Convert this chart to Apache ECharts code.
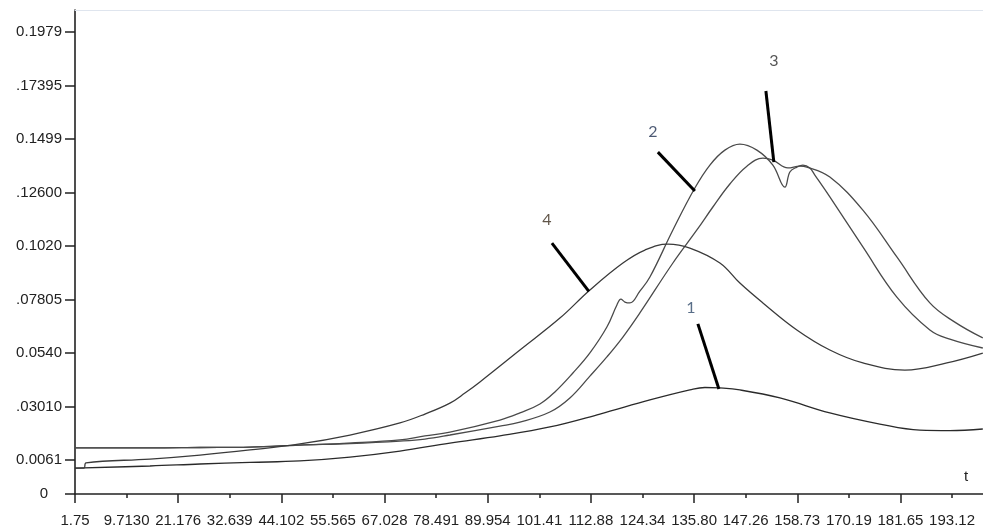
<!DOCTYPE html>
<html>
<head>
<meta charset="utf-8">
<script src="https://cdn.jsdelivr.net/npm/echarts@6/dist/echarts.min.js"></script>
<style>
html,body{margin:0;padding:0;background:#fff;}
#chart{width:983px;height:532px;}
</style>
</head>
<body>
<div id="chart"></div>
<script>
// ---- data (t, value) ----
const curve1T = [-1.75, 14.91, 26.02, 37.13, 48.23, 59.34, 70.45, 81.56, 92.66, 103.77, 114.88, 125.99, 134.87, 138.20, 141.54, 145.98, 154.87, 165.97, 177.08, 185.97, 192.63, 199.96];
const curve1V = [0.0025, 0.0034, 0.0043, 0.0050, 0.0057, 0.0074, 0.0101, 0.0137, 0.0169, 0.0209, 0.0267, 0.0330, 0.0375, 0.0386, 0.0384, 0.0375, 0.0339, 0.0272, 0.0222, 0.0195, 0.0193, 0.0200];

const curve2T = [-1.75, 14.91, 26.02, 37.13, 48.23, 59.34, 70.45, 76.00, 81.56, 92.66, 97.11, 101.55, 104.88, 108.88, 112.66, 116.43, 118.66, 119.54, 120.43, 121.54, 123.76, 125.99, 131.10, 135.98, 139.32, 142.65, 145.98, 149.76, 153.31, 155.98, 157.09, 158.64, 159.98, 161.53, 162.64, 165.97, 173.31, 180.86, 188.19, 192.63, 199.96];
const curve2V = [0.0115, 0.0115, 0.0117, 0.0119, 0.0128, 0.0137, 0.0151, 0.0169, 0.0186, 0.0240, 0.0272, 0.0312, 0.0366, 0.0451, 0.0541, 0.0657, 0.0756, 0.0782, 0.0769, 0.0765, 0.0818, 0.0881, 0.1092, 0.1280, 0.1383, 0.1450, 0.1477, 0.1450, 0.1383, 0.1284, 0.1352, 0.1374, 0.1383, 0.1370, 0.1338, 0.1240, 0.1016, 0.0791, 0.0644, 0.0603, 0.0563];

const curve3T = [-1.75, 14.91, 26.02, 37.13, 48.23, 59.34, 70.45, 76.00, 81.56, 92.66, 97.11, 103.77, 108.21, 112.66, 116.43, 119.99, 123.76, 131.10, 136.43, 139.98, 143.76, 147.54, 151.09, 153.31, 156.64, 159.31, 160.86, 165.97, 173.31, 180.86, 188.19, 193.74, 199.96];
const curve3V = [0.0115, 0.0115, 0.0117, 0.0119, 0.0128, 0.0135, 0.0146, 0.0155, 0.0173, 0.0213, 0.0231, 0.0276, 0.0339, 0.0437, 0.0523, 0.0612, 0.0720, 0.0944, 0.1092, 0.1195, 0.1298, 0.1378, 0.1414, 0.1405, 0.1370, 0.1378, 0.1374, 0.1329, 0.1181, 0.0971, 0.0765, 0.0679, 0.0608];

const curve4T = [-1.75, 0.25, 0.69, 14.91, 26.02, 37.13, 48.23, 59.34, 70.45, 76.00, 81.56, 84.89, 88.22, 97.11, 105.99, 112.66, 119.99, 124.88, 129.99, 134.87, 141.54, 145.98, 151.09, 158.64, 165.97, 173.31, 182.64, 191.97, 199.96];
const curve4V = [0.0025, 0.0025, 0.0048, 0.0065, 0.0083, 0.0106, 0.0133, 0.0173, 0.0227, 0.0267, 0.0316, 0.0361, 0.0411, 0.0554, 0.0697, 0.0823, 0.0944, 0.1002, 0.1029, 0.1011, 0.0944, 0.0854, 0.0765, 0.0644, 0.0554, 0.0496, 0.0464, 0.0496, 0.0540];

// ---- axes ----
const X_MIN = -1.75, X_MAX = 200;
const Y_MIN = -0.00914, Y_MAX = 0.2078;
const xTickVals = [-1.75, 9.713, 21.176, 32.639, 44.102, 55.565, 67.028, 78.491, 89.954, 101.417, 112.88, 124.343, 135.806, 147.269, 158.732, 170.195, 181.658, 193.121];
const xTickLabels = ["1.75", "9.7130", "21.176", "32.639", "44.102", "55.565", "67.028", "78.491", "89.954", "101.41", "112.88", "124.34", "135.80", "147.26", "158.73", "170.19", "181.65", "193.12"];
const xMajorTicks = [-1.75, 21.176, 44.102, 67.028, 89.954, 112.88, 135.806, 158.732, 181.658];
const yTickVals = [Y_MIN, 0.0061, 0.030075, 0.05405, 0.078025, 0.102, 0.125975, 0.14995, 0.173925, 0.1979];
const yTickLabels = ["0", "0.0061", ".03010", "0.0540", ".07805", "0.1020", ".12600", "0.1499", ".17395", "0.1979"];

// ---- curve annotations ----
const annotNames = ["1", "2", "3", "4"];
const annotLabelPos = [[135.09, 0.0742], [126.65, 0.1531], [153.53, 0.1849], [103.10, 0.1137]];
const annotLines = [
  [[136.65, 0.0671], [141.32, 0.0379]],
  [[127.76, 0.1441], [135.98, 0.1267]],
  [[151.76, 0.1715], [153.53, 0.1396]],
  [[104.22, 0.1033], [112.43, 0.0817]]
];
const annotColors = ["#2f4a6a", "#1f3050", "#2b2b2b", "#3a2a1c"];

function zip(t, v) { return t.map((x, i) => [x, v[i]]); }
function nearestIdx(arr, val) {
  let best = 0, bd = Infinity;
  arr.forEach((a, i) => { const d = Math.abs(a - val); if (d < bd) { bd = d; best = i; } });
  return best;
}

const FONT = 'Liberation Sans';
const chart = echarts.init(document.getElementById('chart'), null, { renderer: 'canvas' });

const curves = [
  { name: '1', data: zip(curve1T, curve1V), color: '#2a2a2a' },
  { name: '2', data: zip(curve2T, curve2V), color: '#4a4a4a' },
  { name: '3', data: zip(curve3T, curve3V), color: '#4a4a4a' },
  { name: '4', data: zip(curve4T, curve4V), color: '#3a3a3a' }
];

const series = curves.map(c => ({
  type: 'line',
  name: c.name,
  data: c.data,
  showSymbol: false,
  smooth: 0.4,
  lineStyle: { color: c.color, width: 1.3 },
  z: 2
}));

series.push({
  type: 'line',
  name: 'leaders',
  data: [],
  markLine: {
    silent: true,
    symbol: ['none', 'none'],
    label: { show: false },
    lineStyle: { color: '#000', width: 3, type: 'solid' },
    data: annotLines.map(l => [{ coord: l[0] }, { coord: l[1] }])
  },
  z: 3
});

series.push({
  type: 'scatter',
  name: 'labels',
  symbolSize: 0,
  data: annotNames.map((n, i) => ({
    name: n,
    value: annotLabelPos[i],
    label: { color: annotColors[i] }
  })),
  label: {
    show: true,
    position: 'inside',
    formatter: '{b}',
    fontFamily: 'Lato',
    fontSize: 16
  },
  z: 4
});

chart.setOption({
  animation: false,
  backgroundColor: '#ffffff',
  grid: { left: 75, right: 0, top: 10, bottom: 38, containLabel: false },
  xAxis: [
    {
      type: 'value', min: X_MIN, max: X_MAX, position: 'bottom',
      axisLine: { show: true, onZero: false, lineStyle: { color: '#222', width: 1.6 } },
      axisTick: { show: true, customValues: xTickVals, length: 4, lineStyle: { color: '#222', width: 1.5 } },
      axisLabel: {
        show: true, customValues: xTickVals, margin: 19,
        fontFamily: FONT, fontSize: 15, color: '#222',
        formatter: v => xTickLabels[nearestIdx(xTickVals, v)]
      },
      splitLine: { show: false }
    },
    {
      type: 'value', min: X_MIN, max: X_MAX, position: 'bottom',
      axisLine: { show: false, onZero: false },
      axisTick: { show: true, customValues: xMajorTicks, length: 9, lineStyle: { color: '#222', width: 1.5 } },
      axisLabel: { show: false },
      splitLine: { show: false }
    },
    {
      type: 'value', min: X_MIN, max: X_MAX, position: 'top',
      axisLine: { show: true, onZero: false, lineStyle: { color: '#dfe5ee', width: 1 } },
      axisTick: { show: false }, axisLabel: { show: false }, splitLine: { show: false }
    }
  ],
  yAxis: {
    type: 'value', min: Y_MIN, max: Y_MAX,
    axisLine: { show: true, onZero: false, lineStyle: { color: '#222', width: 1.6 } },
    axisTick: { show: true, customValues: yTickVals, length: 10, lineStyle: { color: '#222', width: 1.5 } },
    axisLabel: {
      show: true, customValues: yTickVals, margin: 13,
      fontFamily: FONT, fontSize: 15, color: '#222',
      formatter: v => {
        const i = nearestIdx(yTickVals, v);
        return i === 0 ? '{z|' + yTickLabels[i] + '}' : yTickLabels[i];
      },
      rich: { z: { fontFamily: FONT, fontSize: 15, color: '#222', padding: [0, 14, 0, 0] } }
    },
    splitLine: { show: false }
  },
  graphic: [
    { type: 'text', left: 964, top: 469, style: { text: 't', font: '15px "Liberation Sans"', fill: '#222' } }
  ],
  series: series
});
</script>
</body>
</html>
